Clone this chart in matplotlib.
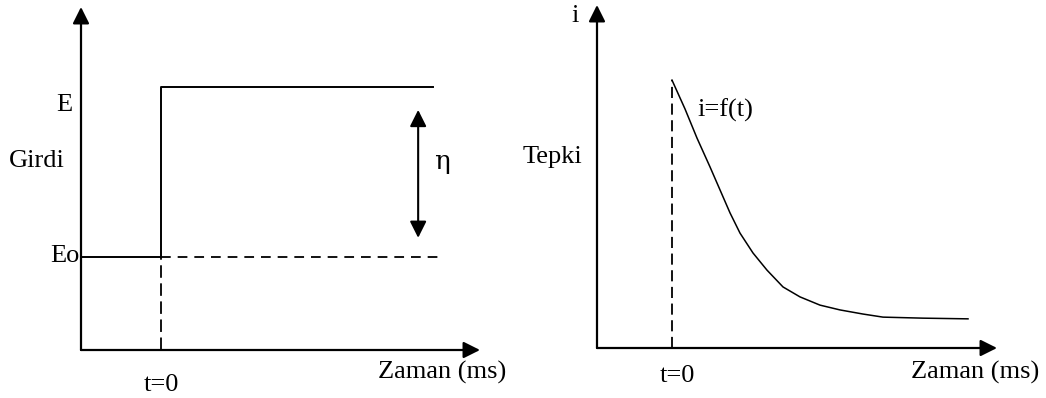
import matplotlib.pyplot as plt

plt.rcParams['font.family'] = ['Liberation Serif', 'DejaVu Serif']
plt.rcParams['lines.scale_dashes'] = False

# left panel: step input (Girdi)
t_step = 0.0
E = 7.67
E0 = 2.71
t_left_start = -4.0
t_top_end = 13.64
t_dash_end = 14.0
eta_x = 12.9
eta_top = 7.0
eta_bottom = 3.27

# right panel: response i = f(t) (Tepki)
t_resp = [0.0, 0.65, 1.25, 1.9, 2.4, 2.9, 3.4, 4.05, 4.75, 5.55, 6.4, 7.4,
          8.4, 9.55, 10.55, 12.55, 14.8]
i_resp = [7.81, 6.97, 6.12, 5.28, 4.61, 3.94, 3.35, 2.77, 2.27, 1.78, 1.49,
          1.25, 1.11, 0.99, 0.90, 0.87, 0.85]

W, H = 1046, 398
fig = plt.figure(figsize=(W / 100, H / 100), dpi=100)


def px_axes(x0, x1, y_bottom, y_top):
    return fig.add_axes([x0 / W, 1 - y_bottom / H, (x1 - x0) / W, (y_bottom - y_top) / H])


def ftext(x, y, s, **kw):
    fig.text(x / W, 1 - y / H, s, fontsize=19, ha='center', va='center', **kw)


def draw_axes_arrows(ax):
    head = dict(arrowstyle='-|>,head_length=0.5,head_width=0.25', color='black',
                lw=1.6, mutation_scale=20, shrinkA=0, shrinkB=0)
    ax.annotate('', xy=(0, 1), xytext=(0, 0), xycoords='axes fraction', arrowprops=head)
    ax.annotate('', xy=(1, 0), xytext=(0, 0), xycoords='axes fraction', arrowprops=head)
    ax.set_axis_off()


# ---- left ----
axl = px_axes(81, 480, 350, 7)
axl.set_xlim(-4, 16)
axl.set_ylim(0, 10)
draw_axes_arrows(axl)

axl.plot([t_left_start, t_step, t_step, t_top_end], [E0, E0, E, E], color='black', lw=1.4)
axl.plot([t_step, t_dash_end], [E0, E0], color='black', lw=1.3, linestyle=(0, (7, 5)))
axl.plot([t_step, t_step], [0, E0], color='black', lw=1.3, linestyle=(0, (9, 4)))
axl.annotate('', xy=(eta_x, eta_top), xytext=(eta_x, eta_bottom),
             arrowprops=dict(arrowstyle='<|-|>,head_length=0.5,head_width=0.25',
                             color='black', lw=1.5, mutation_scale=20,
                             shrinkA=0, shrinkB=0))

ftext(64, 105, 'E')
ftext(37, 161, 'Girdi')
ftext(65, 256, 'Eo')
ftext(161, 385, 't=0')
ftext(442, 372, 'Zaman (ms)')
ftext(442, 162, 'η', family=['DejaVu Serif'])

# ---- right ----
axr = px_axes(597, 997, 348, 5)
axr.set_xlim(-3.75, 16.25)
axr.set_ylim(0, 10)
draw_axes_arrows(axr)

axr.plot(t_resp, i_resp, color='black', lw=1.1)
axr.plot([t_resp[0], t_resp[0]], [0, i_resp[0]], color='black', lw=1.3,
         linestyle=(0, (8, 4)))

ftext(575, 16, 'i')
ftext(552, 157, 'Tepki')
ftext(725, 110, 'i=f(t)')
ftext(677, 376, 't=0')
ftext(975, 372, 'Zaman (ms)')

fig.savefig('out.png', dpi=100)
